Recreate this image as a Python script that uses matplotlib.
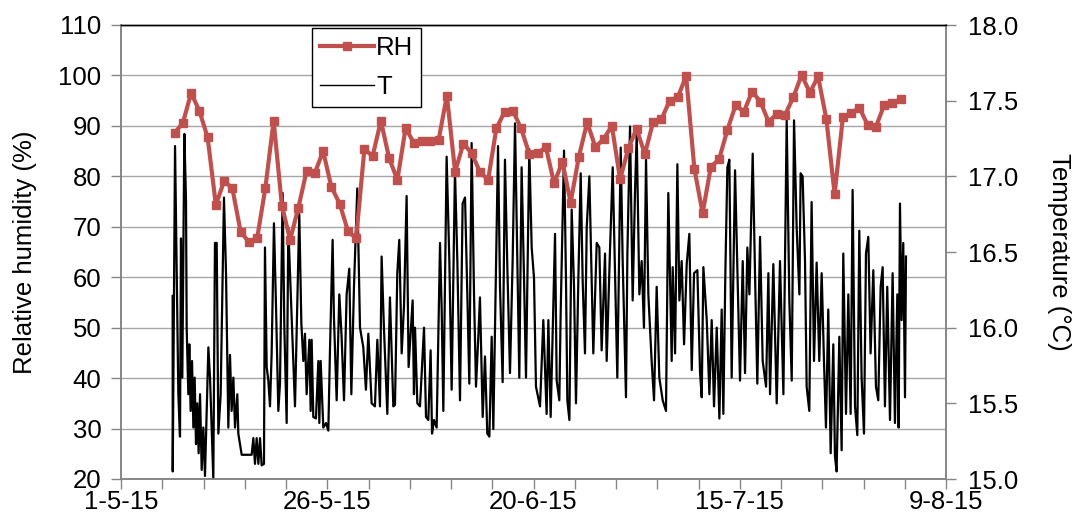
import matplotlib
matplotlib.use("Agg")
import matplotlib.pyplot as plt
from matplotlib.ticker import MultipleLocator, FixedLocator, FixedFormatter, FormatStrFormatter

plt.rcParams['font.family'] = ['Liberation Sans', 'DejaVu Sans']

# ---------------- data ----------------
# x values are days since 1-5-15
date_labels = ["1-5-15", "26-5-15", "20-6-15", "15-7-15", "9-8-15"]
date_label_days = [0, 25, 50, 75, 100]

rh_start_day = 6.5
rh_values = [88.6, 90.6, 96.5, 93.0, 87.7, 74.3, 79.1, 77.6, 69.0, 67.0,
             67.7, 77.7, 91.0, 74.2, 67.4, 73.8, 81.1, 80.7, 85.0, 77.9,
             74.6, 69.2, 67.7, 85.4, 84.0, 91.0, 83.6, 79.3, 89.6, 86.6,
             87.0, 87.0, 87.2, 96.0, 80.9, 86.5, 84.6, 80.9, 79.3, 89.5,
             92.8, 93.0, 89.5, 84.4, 84.6, 85.8, 78.6, 82.9, 74.8, 83.9,
             90.7, 85.8, 87.4, 90.0, 79.4, 85.6, 89.4, 84.4, 90.8, 91.3,
             95.0, 95.7, 99.9, 81.5, 72.7, 81.9, 83.4, 89.2, 94.1, 92.8,
             96.8, 94.8, 90.8, 92.4, 92.2, 95.7, 100.1, 96.6, 99.8, 91.3,
             76.5, 91.7, 92.5, 93.6, 90.2, 89.8, 94.1, 94.5, 95.3]
rh_days = [rh_start_day + i for i in range(len(rh_values))]

t_days = [
    6.26, 6.27, 6.55, 6.95, 7.15, 7.27, 7.43, 7.68, 7.88, 7.96, 8.16, 8.28, 8.44, 8.61, 8.77, 8.93,
    9.09, 9.25, 9.41, 9.58, 9.78, 9.98, 10.18, 10.59, 10.79, 11.19, 11.39, 11.60, 11.80, 12.08,
    12.48, 12.73, 13.01, 13.21, 13.41, 13.62, 13.82, 14.10, 14.22, 14.63, 15.84, 16.04, 16.24,
    16.44, 16.65, 16.85, 17.05, 17.33, 17.45, 17.66, 17.86, 18.06, 18.26, 18.54, 18.79, 19.07,
    19.27, 19.59, 19.80, 20.08, 20.28,
    21.09, 21.61, 21.86, 22.10, 22.30, 22.50, 22.83, 22.99, 23.11, 23.31, 23.63, 23.92, 24.04,
    24.20, 24.52, 24.85, 25.13, 25.33, 25.65, 25.81, 26.14, 26.46, 26.74, 27.03, 27.35, 27.67,
    27.92, 28.24, 28.64, 28.97, 29.37, 29.69, 29.98, 30.38, 30.78, 31.07, 31.39, 31.59, 31.87,
    32.28, 32.60, 33.01, 33.21, 33.49, 33.73, 34.02, 34.30, 34.62, 34.86,
    35.35, 35.51, 35.64, 35.92, 36.24, 36.73, 36.97, 37.25, 37.53, 37.70, 37.94, 38.26, 38.67,
    38.87, 39.07, 39.47, 39.80, 40.08, 40.48, 40.77, 41.09, 41.41, 41.70, 41.98, 42.22, 42.50,
    42.79, 43.03, 43.31, 43.51, 43.84, 44.12, 44.40, 44.65, 44.93, 45.13, 45.45, 45.70, 45.94,
    46.26, 46.54, 46.83, 47.15, 47.47, 47.76, 48.04, 48.28, 48.56, 48.85, 49.09, 49.49, 49.78,
    50.06, 50.30, 50.79, 51.19, 51.59,
    51.80, 52.08, 52.49, 52.61, 52.81, 53.13, 53.29, 53.70, 53.94, 54.10, 54.35, 54.63, 54.91,
    55.15, 55.44, 55.72, 55.96, 56.24, 56.45, 56.77, 57.05, 57.25, 57.66, 57.98, 58.26, 58.67,
    58.87, 59.27, 59.60, 59.88, 60.16, 60.57, 60.81, 61.21, 61.38, 61.70, 62.02, 62.30, 62.51,
    62.83, 63.11, 63.39, 63.64, 63.92, 64.32, 64.61, 64.93, 65.25, 65.66, 66.06, 66.34, 66.75,
    66.87, 67.16, 67.44, 67.68, 67.96, 68.25, 68.57, 68.89, 69.18, 69.46, 69.86, 70.19, 70.39,
    70.59, 71.00, 71.32, 71.60, 71.88, 72.21, 72.53, 72.81, 73.01, 73.26, 73.50, 73.74, 74.02,
    74.43, 74.71, 75.03, 75.36, 75.64, 75.92, 76.17, 76.57, 76.85, 77.13, 77.46, 77.78, 78.19,
    78.47, 78.67, 79.07, 79.48, 79.88, 80.29, 80.69, 81.01, 81.30, 81.58, 81.90, 82.23,
    82.38, 82.62, 82.91, 83.11, 83.43, 83.71, 84.00, 84.32, 84.64, 84.93, 85.21, 85.45, 85.73,
    86.02, 86.34, 86.54, 86.74, 87.07, 87.35, 87.55, 87.88, 88.16, 88.44, 88.68, 88.97, 89.25,
    89.49, 89.77, 90.06, 90.30, 90.58, 90.86, 91.19, 91.51, 91.79, 92.08, 92.32, 92.60, 92.88,
    93.21, 93.53, 93.81, 94.10, 94.26, 94.42, 94.62, 94.82, 95.03, 95.15]

t_values = [
    16.21, 15.05, 17.20, 15.56, 15.28, 16.59, 15.67, 17.28, 16.84, 16.00, 15.56, 15.89, 15.45, 15.78, 15.34, 15.67,
    15.23, 15.50, 15.17, 15.56, 15.06, 15.34, 15.02, 15.87, 15.67, 15.00, 16.56, 16.56, 15.30, 15.56,
    16.86, 16.36, 15.34, 15.82, 15.45, 15.67, 15.34, 15.56, 15.30, 15.16, 15.16, 15.27, 15.10,
    15.27, 15.10, 15.27, 15.09, 15.10, 16.53, 15.74, 15.65, 15.48, 15.83, 16.69, 16.14, 15.45,
    15.63, 16.89, 16.00, 15.37, 16.66,
    15.48, 16.75, 16.03, 15.78, 15.96, 15.56, 15.92, 15.45, 15.92, 15.41, 15.40, 15.78, 15.37,
    15.78, 15.34, 15.37, 15.32, 15.85, 16.58, 16.07, 15.52, 16.22, 15.94, 15.52, 16.22, 16.39,
    15.56, 16.27, 16.92, 16.00, 15.87, 15.59, 15.96, 15.50, 15.48, 15.92, 15.48, 16.47, 16.00,
    15.43, 16.20, 15.48, 15.49, 16.36, 16.58, 15.83, 16.14, 16.87, 15.74,
    16.18, 15.56, 16.00, 15.50, 15.48, 16.00, 15.41, 15.39, 15.85, 15.30, 15.39, 15.34, 16.56,
    16.12, 15.45, 17.13, 16.44, 15.59, 17.04, 16.44, 15.52, 16.82, 16.86, 16.22, 15.63, 17.22,
    16.22, 15.61, 15.94, 16.20, 15.41, 15.81, 15.30, 15.28, 15.94, 15.33, 16.36, 17.20, 16.27,
    15.64, 17.11, 16.40, 15.70, 16.44, 17.35, 16.44, 15.67, 17.06, 16.33, 15.67, 17.18, 16.53,
    16.33, 15.61, 15.48, 16.05, 15.43,
    16.05, 15.41, 16.36, 16.62, 15.65, 15.52, 16.09, 17.17, 16.31, 15.52, 15.39, 16.78, 16.27,
    15.50, 16.33, 17.02, 16.31, 15.83, 16.66, 17.00, 16.33, 15.83, 16.56, 16.53, 15.85, 16.49,
    15.78, 16.51, 17.06, 16.38, 15.67, 17.19, 16.44, 15.54, 16.49, 17.33, 16.18, 16.89, 17.28,
    16.22, 16.44, 16.00, 17.11, 16.22, 15.78, 15.52, 16.27, 15.67, 15.52, 15.45, 16.89, 15.78,
    16.40, 15.83, 17.08, 16.18, 16.44, 15.89, 16.42, 16.62, 15.72, 16.36, 16.38, 15.70, 15.54,
    16.40, 16.05, 15.56, 16.05, 15.48, 16.00, 15.40, 16.12, 15.43, 16.38, 17.06, 17.11, 15.67,
    17.04, 16.40, 15.65, 16.44, 15.70, 16.53, 16.22, 17.15, 16.36, 15.63, 16.60, 15.78, 15.61,
    16.36, 15.56, 16.42, 15.50, 16.44, 15.56, 17.37, 16.18, 15.65, 17.37, 16.66, 16.22,
    17.02, 17.00, 16.44, 15.61, 15.45, 16.83, 15.78, 16.43, 15.78, 16.36, 15.78, 15.34, 16.12,
    15.17, 15.89, 15.15, 15.05, 15.94, 15.19, 16.49, 15.43, 16.22, 15.43, 16.91, 15.48, 15.29,
    16.64, 15.67, 15.30, 16.49, 16.60, 15.83, 16.38, 15.61, 15.52, 16.27, 16.40, 15.48, 16.27,
    15.39, 16.36, 15.37, 16.22, 15.34, 16.82, 16.05, 16.56, 15.54, 16.47]

# ---------------- figure ----------------
W, H, DPI = 1077, 520, 100
fig = plt.figure(figsize=(W / DPI, H / DPI), dpi=DPI)
ax = fig.add_axes([121 / W, (H - 479) / H, (946 - 121) / W, (479 - 25) / H])
ax2 = ax.twinx()

FS = 18.5
GRID = '#A6A6A6'
SPINE = '#868686'
RED = '#C0504D'

# RH axis
ax.set_xlim(0, 100)
ax.set_ylim(20, 110)
ax.yaxis.set_major_locator(MultipleLocator(10))
ax.grid(axis='y', color=GRID, linewidth=1.0)
ax.set_axisbelow(True)

# x ticks: labelled every 25 days, unlabelled marks every 5 days
ax.xaxis.set_major_locator(FixedLocator(date_label_days))
ax.xaxis.set_major_formatter(FixedFormatter(date_labels))
ax.xaxis.set_minor_locator(MultipleLocator(5))

for a in (ax, ax2):
    for s in ('left', 'right', 'bottom'):
        a.spines[s].set_color(SPINE)
        a.spines[s].set_linewidth(1.2)
    a.spines['top'].set_color('black')
    a.spines['top'].set_linewidth(1.0)

ax.tick_params(axis='both', which='both', direction='out', length=7, width=1.0,
               color=SPINE, labelsize=FS)
ax.tick_params(axis='x', which='both', pad=1.0)
ax.tick_params(axis='y', pad=7)
ax2.tick_params(axis='y', direction='out', length=7, width=1.0, color=SPINE,
                labelsize=FS, pad=9)

ax.set_ylabel('Relative humidity (%)', fontsize=FS)
ax.yaxis.set_label_coords(-0.102, 0.5)

# Temperature axis
ax2.set_ylim(15.0, 18.0)
ax2.yaxis.set_major_locator(MultipleLocator(0.5))
ax2.yaxis.set_major_formatter(FormatStrFormatter('%.1f'))
ax2.set_ylabel('Temperature (°C)', fontsize=FS, rotation=-90, va='center')
ax2.yaxis.set_label_coords(1.137, 0.5)

# T line on the temperature axis
t_line, = ax2.plot(t_days, t_values, color='black', linewidth=1.6, zorder=2)

# RH line drawn on the top layer but in the RH coordinate system
rh_line, = ax2.plot(rh_days, rh_values, color=RED, linewidth=3.0, marker='s',
                    markersize=6, markeredgecolor=RED, markerfacecolor=RED,
                    transform=ax.transData, zorder=3)

leg = ax2.legend([rh_line, t_line], ['RH', 'T'], loc='upper left',
                 bbox_to_anchor=((312 - 121) / 825, 1 - (28 - 25) / 454),
                 borderaxespad=0, fontsize=FS, frameon=True, fancybox=False,
                 edgecolor='black', handlelength=2.1, handletextpad=0.1,
                 labelspacing=0.6, borderpad=0.3, framealpha=1)
leg.get_frame().set_linewidth(1.0)
leg.get_lines()[1].set_linewidth(1.0)

fig.savefig('out.png', dpi=DPI)
